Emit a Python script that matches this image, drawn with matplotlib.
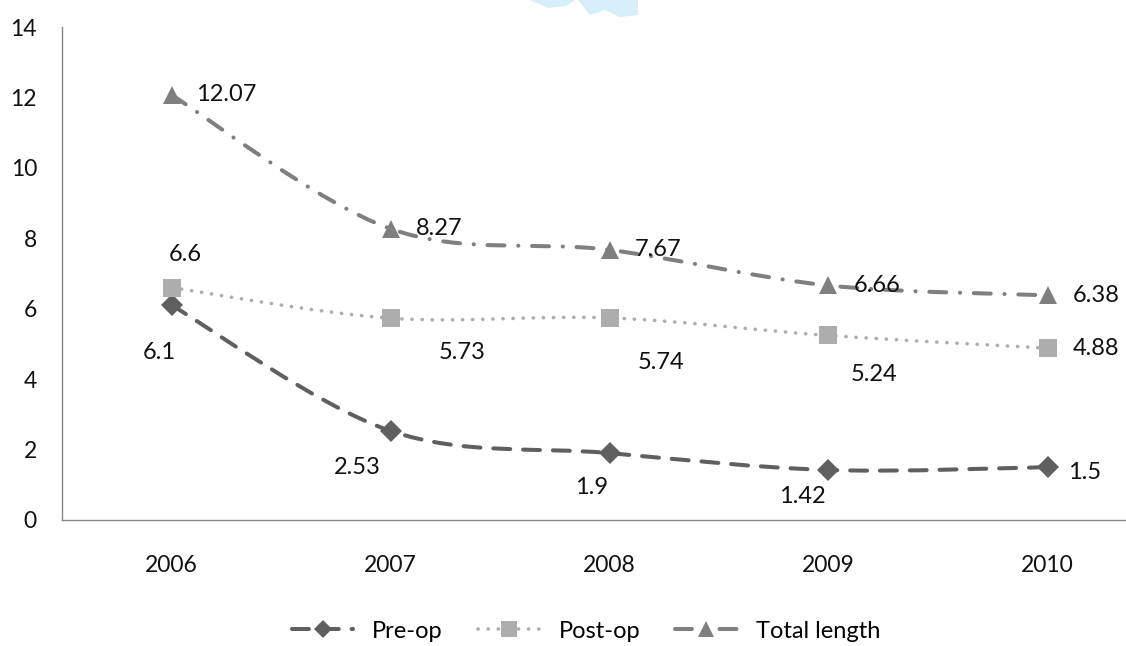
import numpy as np
import matplotlib
matplotlib.use('Agg')
import matplotlib.pyplot as plt
from matplotlib.path import Path
from matplotlib.patches import PathPatch, Polygon
from matplotlib.lines import Line2D

plt.rcParams['font.family'] = ['Lato', 'DejaVu Sans']

years = ['2006', '2007', '2008', '2009', '2010']
pre_op = [6.1, 2.53, 1.9, 1.42, 1.5]
post_op = [6.6, 5.73, 5.74, 5.24, 4.88]
total_length = [12.07, 8.27, 7.67, 6.66, 6.38]

# label offsets in points (dx, dy); dx >= 15 means left-aligned to the right of the marker
pre_off = [(-9, -34), (-24, -26), (-13, -25), (-19, -19), (15, -4)]
post_off = [(10, 24), (35, -25), (20, -32), (16, -28), (18, 0)]
total_off = [(18, 0), (18, 0), (18, 0), (18, 0), (18, 0)]


def smooth_path(x, y, t=1.0):
    # Catmull-Rom style bezier through the points
    pts = np.column_stack([x, y]).astype(float)
    p = np.vstack([pts[0], pts, pts[-1]])
    verts = [pts[0]]
    codes = [Path.MOVETO]
    for i in range(1, len(p) - 2):
        c1 = p[i] + (p[i + 1] - p[i - 1]) * t / 6
        c2 = p[i + 1] - (p[i + 2] - p[i]) * t / 6
        verts += [c1, c2, p[i + 1]]
        codes += [Path.CURVE4] * 3
    return Path(verts, codes)


fig = plt.figure(figsize=(11.26, 6.46), dpi=100)
ax = fig.add_axes([62 / 1126, 126 / 646, 1095 / 1126, 493 / 646])

x = np.arange(len(years))
series = [
    (pre_op, 'Pre-op', '#5f5f5f', 2.9, (0, (4.2, 3.2)), 'D', 11, pre_off),
    (post_op, 'Post-op', '#adadad', 2.6, (0, (0.05, 2.75)), 's', 13.5, post_off),
    (total_length, 'Total length', '#7f7f7f', 2.9,
     (0, (4.2, 3.4, 0.05, 3.4)), '^', 13.5, total_off),
]

handles = []
for vals, name, col, lw, ls, mk, ms, offs in series:
    patch = PathPatch(smooth_path(x, vals), facecolor='none', edgecolor=col,
                      linewidth=lw, linestyle=ls, capstyle='round', zorder=2)
    patch.set_joinstyle('round')
    ax.add_patch(patch)
    ax.plot(x, vals, linestyle='none', marker=mk, markersize=ms, color=col,
            markeredgewidth=0, zorder=3)
    for xi, v, (dx, dy) in zip(x, vals, offs):
        ax.annotate(f'{v:g}', (xi, v), xytext=(dx, dy), textcoords='offset points',
                    ha='left' if dx >= 15 else 'center', va='center',
                    fontsize=17, color='#111111', zorder=4)
    handles.append(Line2D([], [], color=col, linewidth=lw, linestyle=ls,
                          dash_capstyle='round', marker=mk, markersize=ms * 0.85,
                          markeredgewidth=0, label=name))

ax.set_xlim(-0.5, 4.5)
ax.set_ylim(0, 14)
ax.set_yticks(range(0, 15, 2))
ax.set_xticks(x)
ax.set_xticklabels(years)
ax.tick_params(axis='both', length=0, labelsize=16.5, colors='#111111')
ax.tick_params(axis='y', pad=18)
ax.tick_params(axis='x', pad=25)
for side in ['top', 'right']:
    ax.spines[side].set_visible(False)
for side in ['left', 'bottom']:
    ax.spines[side].set_color('#868686')
    ax.spines[side].set_linewidth(1.0)

fig.legend(handles=handles, loc='center', bbox_to_anchor=(586 / 1126, 1 - 631 / 646),
           ncol=3, frameon=False, fontsize=17, handlelength=2.6, columnspacing=1.5,
           handletextpad=0.8)

# faint logo fragment at the top edge
fig.patches.append(Polygon([(530, 646), (575, 646), (566, 640), (548, 638)],
                           closed=True, transform=None, facecolor='#d6effa',
                           edgecolor='none'))
fig.patches.append(Polygon([(578, 646), (638, 646), (638, 631), (620, 629),
                            (605, 636), (590, 631)],
                           closed=True, transform=None, facecolor='#d6effa',
                           edgecolor='none'))

fig.savefig('out.png', dpi=100)
